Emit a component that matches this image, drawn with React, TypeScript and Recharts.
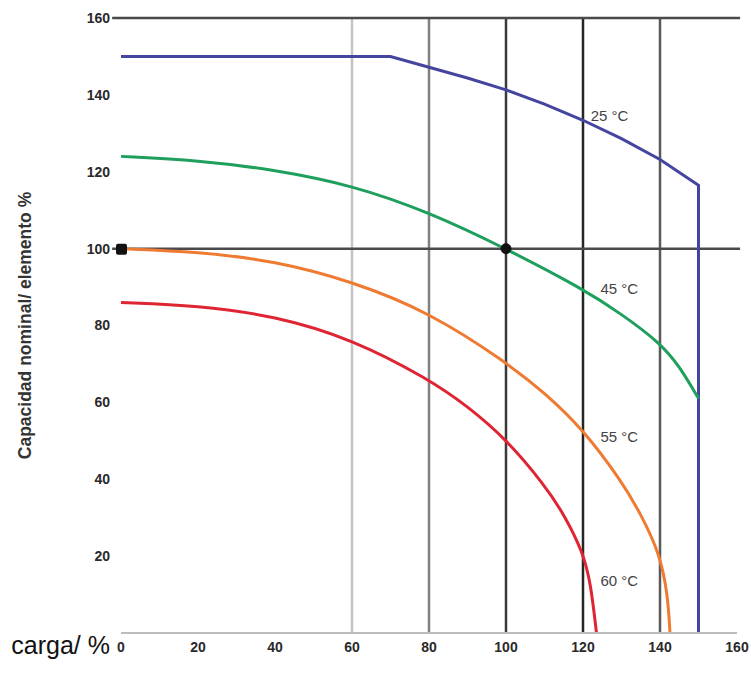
import React from 'react';
import { LineChart, Line, XAxis, YAxis, ReferenceLine, ReferenceDot, Label } from 'recharts';

const xTicks = [0, 20, 40, 60, 80, 100, 120, 140, 160];
const yTicks = [20, 40, 60, 80, 100, 120, 140, 160];

const load25 = [0, 70, 80, 90, 100, 110, 120, 130, 140, 150, 150];
const cap25 = [150, 150, 147.2, 144.4, 141.3, 137.6, 133.4, 128.6, 123.2, 116.5, 0];

const load45 = [0, 20, 40, 60, 80, 100, 120, 130, 140, 145, 150];
const cap45 = [124, 123, 120.5, 116.5, 109.5, 100, 89.5, 83, 75.5, 69.5, 61];

const load55 = [0, 20, 40, 60, 80, 100, 110, 120, 130, 135, 140, 142, 142.6];
const cap55 = [100, 99.2, 96.8, 91.5, 83.5, 70.5, 62.5, 53, 39.5, 31, 20.5, 10, 0];

const load60 = [0, 20, 40, 60, 80, 90, 100, 110, 115, 120, 122, 123.5];
const cap60 = [86, 85.2, 82.5, 76.5, 66, 59, 50.5, 38.5, 31, 21, 13, 0];

const curveNames = ['25 °C', '45 °C', '55 °C', '60 °C'];
const labelX = [121.5, 124, 124, 124];
const labelY = [134.5, 89.5, 51, 13.5];

const gridX = [60, 80, 100, 120, 140];
const gridXColors = ['#c4c4c4', '#808080', '#3a3a3a', '#262626', '#5a5a5a'];
const gridY = [160, 100];

const toData = (xs: number[], ys: number[]) => xs.map((x, i) => ({ x, y: ys[i] }));

const series = [
  { name: curveNames[0], data: toData(load25, cap25), color: '#4545a0', type: 'linear' },
  { name: curveNames[1], data: toData(load45, cap45), color: '#1f9f5c', type: 'basis' },
  { name: curveNames[2], data: toData(load55, cap55), color: '#ef7a32', type: 'basis' },
  { name: curveNames[3], data: toData(load60, cap60), color: '#df2433', type: 'basis' },
];

const font = 'Liberation Sans, Arial, sans-serif';

const SquareDot = (props: any) => {
  const { cx, cy } = props;
  return <rect x={cx - 5} y={cy - 5} width={11} height={11} rx={2} fill="#111" />;
};

export default function App() {
  return (
    <div style={{ position: 'absolute', left: 0, top: 0, width: 751, height: 676, background: '#fff' }}>
      <LineChart width={751} height={676} margin={{ top: 18, right: 14, bottom: 3, left: 0 }}>
        <XAxis
          dataKey="x"
          type="number"
          domain={[0, 160]}
          ticks={xTicks}
          interval={0}
          axisLine={{ stroke: '#bdbdbd', strokeWidth: 2 }}
          tickLine={false}
          tickSize={0}
          tickMargin={9}
          height={40}
          tick={{ fill: '#2a2a2a', fontSize: 14, fontFamily: font, fontWeight: 'bold' }}
        >
          <Label
            value="carga/ %"
            position="left"
            offset={11}
            dy={-8}
            style={{ fill: '#111', fontSize: 25, fontFamily: font, textAnchor: 'end' }}
          />
        </XAxis>
        <YAxis
          type="number"
          domain={[0, 160]}
          ticks={yTicks}
          interval={0}
          axisLine={false}
          tickLine={false}
          tickSize={0}
          tickMargin={11}
          width={121}
          tick={{ fill: '#2a2a2a', fontSize: 14, fontFamily: font, fontWeight: 'bold' }}
        >
          <Label
            value="Capacidad nominal/ elemento %"
            angle={-90}
            position="insideLeft"
            offset={25}
            style={{ fill: '#333', fontSize: 17.5, fontFamily: font, fontWeight: 'bold', textAnchor: 'middle' }}
          />
        </YAxis>
        {gridX.map((gx, i) => (
          <ReferenceLine key={'gx' + gx} x={gx} stroke={gridXColors[i]} strokeWidth={2.5} />
        ))}
        {gridY.map((gy) => (
          <ReferenceLine
            key={'gy' + gy}
            segment={[{ x: -2.3, y: gy }, { x: 160.8, y: gy }]}
            ifOverflow="visible"
            stroke="#4a4a4a"
            strokeWidth={2.5}
          />
        ))}
        {series.map((s) => (
          <Line
            key={s.name}
            data={s.data}
            dataKey="y"
            name={s.name}
            type={s.type as any}
            stroke={s.color}
            strokeWidth={3}
            dot={false}
            activeDot={false}
            isAnimationActive={false}
          />
        ))}
        {curveNames.map((n, i) => (
          <ReferenceDot
            key={'lbl' + n}
            x={labelX[i]}
            y={labelY[i]}
            r={0}
            stroke="none"
            fill="none"
            label={{ value: n, position: 'right', offset: 2, fill: '#444', fontSize: 15, fontFamily: font }}
          />
        ))}
        <ReferenceDot x={0} y={100} r={5} shape={SquareDot} ifOverflow="visible" />
        <ReferenceDot x={100} y={100} r={5} fill="#111" stroke="#111" />
      </LineChart>
    </div>
  );
}
